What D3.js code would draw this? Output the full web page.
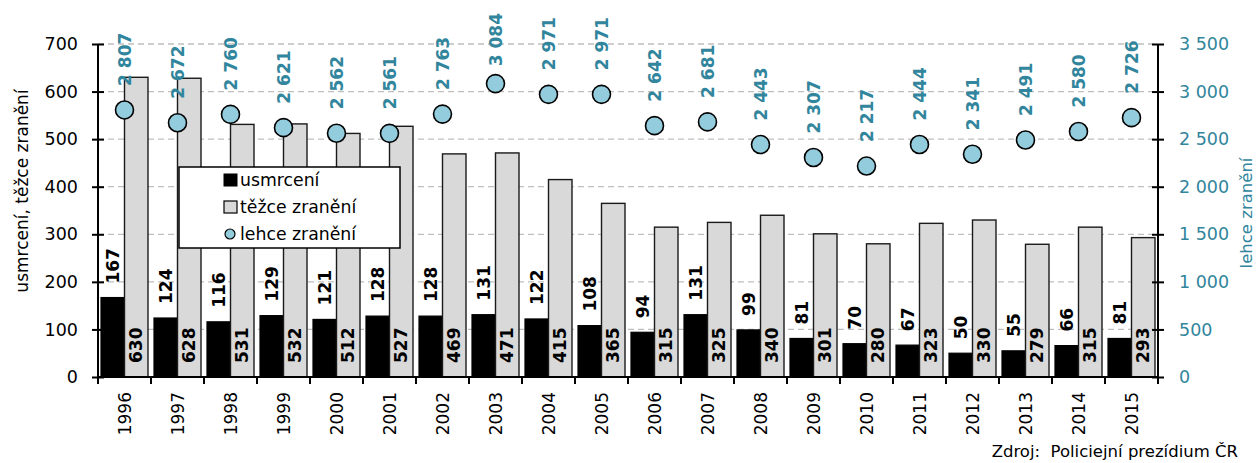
<!DOCTYPE html>
<html lang="cs">
<head>
<meta charset="utf-8">
<script src="https://cdn.jsdelivr.net/npm/d3@7"></script>
<style>
  html, body { margin: 0; padding: 0; background: #fff; }
  svg { display: block; font-family: "DejaVu Sans", Verdana, sans-serif; }
</style>
</head>
<body>
<svg id="chart" width="1257" height="463"></svg>
<script>
// Oběti dopravních nehod 1996–2015
const years = ["1996","1997","1998","1999","2000","2001","2002","2003","2004","2005",
               "2006","2007","2008","2009","2010","2011","2012","2013","2014","2015"];
const killed = [167,124,116,129,121,128,128,131,122,108,94,131,99,81,70,67,50,55,66,81];
const seriouslyInjured = [630,628,531,532,512,527,469,471,415,365,315,325,340,301,280,323,330,279,315,293];
const slightlyInjured = [2807,2672,2760,2621,2562,2561,2763,3084,2971,2971,2642,2681,2443,2307,2217,2444,2341,2491,2580,2726];
const leftTicks = [0,100,200,300,400,500,600,700];
const rightTicks = [0,500,1000,1500,2000,2500,3000,3500];
const seriesNames = ["usmrcení", "těžce zranění", "lehce zranění"];

const TEAL = "#31859c";
const CIRCLE = "#93cddd";
const GREY = "#d9d9d9";

const svg = d3.select("#chart");
const plotL = 98, plotR = 1158, plotT = 44, plotB = 377;

const x = d3.scaleBand().domain(years).range([plotL, plotR]).padding(0);
const bars = d3.scaleBand().domain(["k", "s"]).range([3, x.bandwidth() - 3]).padding(0);
const y = d3.scaleLinear().domain([0, 700]).range([plotB, plotT]);
const y2 = d3.scaleLinear().domain([0, 3500]).range([plotB, plotT]);

const fmt = v => d3.format(",")(v).replace(/,/g, " ");

// mřížka
svg.append("g")
  .selectAll("line")
  .data(leftTicks.filter(d => d > 0))
  .join("line")
  .attr("x1", plotL).attr("x2", plotR)
  .attr("y1", d => y(d)).attr("y2", d => y(d))
  .attr("stroke", "#bfbfbf").attr("stroke-width", 1.3)
  .attr("stroke-dasharray", "6,4");

// sloupce
const groups = svg.append("g")
  .selectAll("g")
  .data(years.map((yr, i) => ({ yr, k: killed[i], s: seriouslyInjured[i] })))
  .join("g")
  .attr("transform", d => `translate(${x(d.yr)},0)`);

groups.append("rect")
  .attr("x", bars("k")).attr("width", bars.bandwidth())
  .attr("y", d => y(d.k)).attr("height", d => y(0) - y(d.k))
  .attr("fill", "#000").attr("stroke", "#000").attr("stroke-width", 1.2);

groups.append("rect")
  .attr("x", bars("s")).attr("width", bars.bandwidth())
  .attr("y", d => y(d.s)).attr("height", d => y(0) - y(d.s))
  .attr("fill", GREY).attr("stroke", "#1a1a1a").attr("stroke-width", 1.4);

// popisky usmrcení
groups.append("text")
  .attr("transform", d => `translate(${bars("k") + bars.bandwidth() / 2},${y(d.k) - 14}) rotate(-90)`)
  .attr("dy", "0.36em")
  .attr("font-size", 17).attr("font-weight", "bold").attr("fill", "#000")
  .text(d => d.k);

// popisky těžce zranění
groups.append("text")
  .attr("transform", d => `translate(${bars("s") + bars.bandwidth() / 2},${y(0) - 14}) rotate(-90)`)
  .attr("dy", "0.36em")
  .attr("font-size", 17).attr("font-weight", "bold").attr("fill", "#000")
  .text(d => d.s);

// osy
const axisLeft = svg.append("g")
  .attr("transform", `translate(${plotL},0)`)
  .call(d3.axisLeft(y).tickValues(leftTicks).tickSize(6).tickPadding(14));
axisLeft.selectAll(".tick line").attr("x2", 6).attr("x1", -6);

const axisRight = svg.append("g")
  .attr("transform", `translate(${plotR},0)`)
  .call(d3.axisRight(y2).tickValues(rightTicks).tickSize(6).tickPadding(15).tickFormat(fmt));
axisRight.selectAll(".tick line").attr("x1", -6).attr("x2", 6);

[axisLeft, axisRight].forEach(a => {
  a.select(".domain").attr("d", `M0,${plotT}V${plotB}`).attr("stroke", "#000").attr("stroke-width", 2);
  a.selectAll(".tick line").attr("stroke", "#000").attr("stroke-width", 2);
  a.selectAll(".tick text").attr("font-size", 17.5).attr("font-family", "DejaVu Sans, Verdana, sans-serif");
});
axisLeft.selectAll(".tick text").attr("fill", "#000");
axisRight.selectAll(".tick text").attr("fill", TEAL);

// osa x
const axisX = svg.append("g").attr("transform", `translate(0,${plotB})`);
axisX.append("line").attr("x1", plotL).attr("x2", plotR).attr("stroke", "#000").attr("stroke-width", 2);
axisX.selectAll("line.tk")
  .data(years.concat(["end"]))
  .join("line").attr("class", "tk")
  .attr("x1", (d, i) => i < years.length ? x(d) : plotR)
  .attr("x2", (d, i) => i < years.length ? x(d) : plotR)
  .attr("y1", 0).attr("y2", 7)
  .attr("stroke", "#000").attr("stroke-width", 2);
axisX.selectAll("text")
  .data(years)
  .join("text")
  .attr("transform", d => `translate(${x(d) + x.bandwidth() / 2},15) rotate(-90)`)
  .attr("text-anchor", "end").attr("dy", "0.36em")
  .attr("font-size", 17).attr("fill", "#000")
  .text(d => d);

// lehce zranění – body a popisky
const pts = svg.append("g")
  .selectAll("g")
  .data(years.map((yr, i) => ({ yr, v: slightlyInjured[i] })))
  .join("g");

pts.append("circle")
  .attr("cx", d => x(d.yr) + x.bandwidth() / 2)
  .attr("cy", d => y2(d.v))
  .attr("r", 9)
  .attr("fill", CIRCLE).attr("stroke", "#000").attr("stroke-width", 1.6);

pts.append("text")
  .attr("font-size", 17).attr("font-weight", "bold").attr("fill", TEAL)
  .attr("dy", "0.36em")
  .text(d => fmt(d.v))
  .each(function (d) {
    const len = this.getComputedTextLength();
    const base = Math.max(y2(d.v) - 24, 13 + len);
    d3.select(this).attr("transform", `translate(${x(d.yr) + x.bandwidth() / 2},${base}) rotate(-90)`);
  });

// názvy os
svg.append("text")
  .attr("transform", `translate(22,191) rotate(-90)`)
  .attr("text-anchor", "middle").attr("dy", "0.36em")
  .attr("font-size", 17).attr("fill", "#000")
  .text("usmrcení, těžce zranění");

svg.append("text")
  .attr("transform", `translate(1246,213) rotate(-90)`)
  .attr("text-anchor", "middle").attr("dy", "0.36em")
  .attr("font-size", 16.5).attr("fill", TEAL)
  .text(seriesNames[2]);

// legenda
const lg = svg.append("g");
lg.append("rect").attr("x", 179).attr("y", 167).attr("width", 221).attr("height", 81)
  .attr("fill", "#fff").attr("stroke", "#000").attr("stroke-width", 1.5);
const rows = [180, 207, 234];
lg.append("rect").attr("x", 224).attr("y", rows[0] - 6).attr("width", 13).attr("height", 12)
  .attr("fill", "#000").attr("stroke", "#000");
lg.append("rect").attr("x", 224).attr("y", rows[1] - 6).attr("width", 13).attr("height", 12)
  .attr("fill", GREY).attr("stroke", "#000").attr("stroke-width", 1.2);
lg.append("circle").attr("cx", 230).attr("cy", rows[2]).attr("r", 5)
  .attr("fill", CIRCLE).attr("stroke", "#000").attr("stroke-width", 1.2);
lg.selectAll("text.lt")
  .data(seriesNames)
  .join("text").attr("class", "lt")
  .attr("x", 240).attr("y", (d, i) => rows[i]).attr("dy", "0.36em")
  .attr("font-size", 17.3).attr("fill", "#000")
  .text(d => d);

// zdroj
svg.append("text")
  .attr("x", 1238).attr("y", 457).attr("text-anchor", "end")
  .attr("font-size", 16.5).attr("fill", "#000")
  .attr("xml:space", "preserve")
  .style("white-space", "pre")
  .text("Zdroj:  Policiejní prezídium ČR");
</script>
</body>
</html>
